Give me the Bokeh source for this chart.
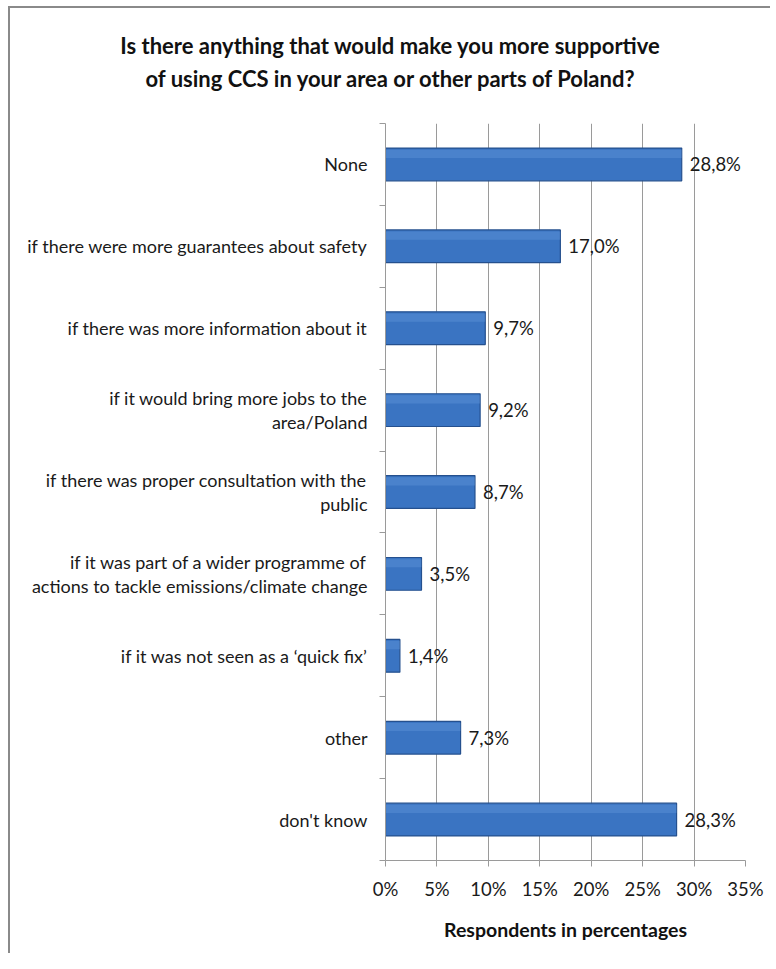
from bokeh.plotting import figure
from bokeh.models import ColumnDataSource, Range1d, FixedTicker, Div
from bokeh.layouts import column
from bokeh.transform import dodge
from bokeh.embed import file_html
from bokeh.resources import INLINE
from bokeh.core.properties import value

# ---- data ----
categories = [
    "None",
    "if there were more guarantees about safety",
    "if there was more information about it",
    "if it would bring more jobs to the\narea/Poland",
    "if there was proper consultation with the\npublic",
    "if it was part of a wider programme of\nactions to tackle emissions/climate change",
    "if it was not seen as a \u2018quick fix\u2019",
    "other",
    "don't know",
]
values = [28.8, 17.0, 9.7, 9.2, 8.7, 3.5, 1.4, 7.3, 28.3]
x_ticks = [0, 5, 10, 15, 20, 25, 30, 35]
x_tick_labels = ["0%", "5%", "10%", "15%", "20%", "25%", "30%", "35%"]
title_lines = [
    "Is there anything that would make you more supportive",
    "of using CCS in your area or other parts of Poland?",
]
x_axis_title = "Respondents in percentages"

FONT = "Lato"
GRID = "#9a9a9a"

n = len(categories)
ys = [n - i for i in range(n)]
labels = [f"{v:.1f}".replace(".", ",") + "%" for v in values]
src = ColumnDataSource(dict(y=ys, v=values, lab=labels))

W = 760
title_div = Div(
    text="<br>".join(title_lines),
    width=W, height=100, margin=0,
    styles={"text-align": "center", "font-family": FONT, "font-weight": "bold",
            "font-size": "22px", "line-height": "33px", "color": "#111111",
            "padding-top": "21px", "box-sizing": "border-box", "width": f"{W}px"},
)

p = figure(width=W, height=845, output_backend="svg", toolbar_location=None,
           x_range=Range1d(0, 35), y_range=Range1d(0.5, n + 0.5),
           min_border_left=375, min_border_right=25, min_border_top=15,
           min_border_bottom=93)
p.outline_line_color = None
p.background_fill_color = "white"
p.border_fill_color = "white"

# bars (base + soft highlight strip for a bevelled look)
p.hbar(y="y", right="v", left=0, height=0.40, source=src,
       fill_color="#3a74c2", line_color="#25508e", line_width=1.2)
p.hbar(y=dodge("y", 0.13, range=p.y_range), right="v", left=0, height=0.10,
       source=src, fill_color="#6a9fe0", fill_alpha=0.35, line_color=None)

p.text(x="v", y="y", text="lab", source=src, x_offset=8,
       text_font=value(FONT), text_font_size="18.5px", text_color="#1a1a1a",
       text_align="left", text_baseline="middle")

# x axis
xa = p.xaxis[0]
xa.ticker = FixedTicker(ticks=x_ticks)
xa.major_label_overrides = {t: l for t, l in zip(x_ticks, x_tick_labels)}
xa.major_label_text_font = FONT
xa.major_label_text_font_size = "18.5px"
xa.major_label_text_color = "#1a1a1a"
xa.major_label_standoff = 11
xa.axis_line_color = GRID
xa.major_tick_line_color = GRID
xa.major_tick_out = 6
xa.major_tick_in = 0
xa.minor_tick_line_color = None
xa.axis_label = x_axis_title
xa.axis_label_text_font = FONT
xa.axis_label_text_font_style = "bold"
xa.axis_label_text_font_size = "19.5px"
xa.axis_label_text_color = "#111111"
xa.axis_label_standoff = 15

# y axis
ya = p.yaxis[0]
ya.ticker = FixedTicker(ticks=ys, minor_ticks=[k + 0.5 for k in range(n + 1)])
ya.major_label_overrides = {y: c for y, c in zip(ys, categories)}
ya.major_label_text_font = FONT
ya.major_label_text_font_size = "18px"
ya.major_label_text_color = "#1a1a1a"
ya.major_label_text_line_height = 1.07
ya.major_tick_line_color = None
ya.major_tick_out = 0
ya.major_tick_in = 0
ya.minor_tick_line_color = GRID
ya.minor_tick_out = 6
ya.minor_tick_in = 0
ya.major_label_standoff = 12
ya.axis_line_color = GRID

p.xgrid.grid_line_color = GRID
p.ygrid.grid_line_color = None

layout = column(title_div, p, margin=(6, 0, 0, 8), spacing=0,
                styles={"border-top": "2px solid #8a8a8a",
                        "border-left": "2px solid #8a8a8a"})

open("out.html", "w").write(file_html(layout, INLINE))
